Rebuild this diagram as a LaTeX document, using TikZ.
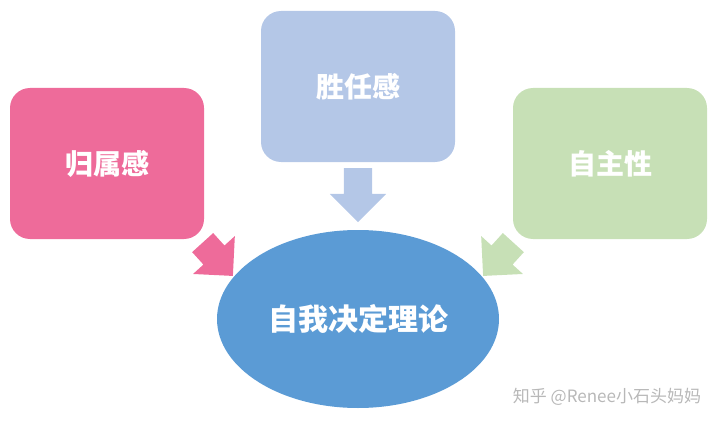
\documentclass[tikz,border=0pt]{standalone}
\usepackage{fontspec}
\newfontfamily\cjk{Noto Sans CJK SC}
\usetikzlibrary{shapes.geometric, shapes.arrows}

\definecolor{pinkbox}{HTML}{EE6B9A}
\definecolor{bluebox}{HTML}{B4C7E7}
\definecolor{greenbox}{HTML}{C7E0B6}
\definecolor{mainblue}{HTML}{5B9BD5}

\begin{document}
\begin{tikzpicture}[x=1pt,y=-1pt,
    box/.style={rounded corners=20pt, minimum width=194pt, minimum height=151pt,
        text=white, font=\cjk\bfseries\fontsize{28}{32}\selectfont},
    blockarrow/.style={single arrow, inner xsep=0pt, inner ysep=14pt,
        single arrow head extend=14pt}]
    \useasboundingbox (0,0) rectangle (720,425);

    \node[box, fill=pinkbox] (need1) at (107,163.5) {归属感};
    \node[box, fill=bluebox] (need2) at (358,86.5) {胜任感};
    \node[box, fill=greenbox] (need3) at (610,163.5) {自主性};
    \node[ellipse, fill=mainblue, minimum width=282pt, minimum height=178pt,
        text=white, font=\cjk\bfseries\fontsize{30}{34}\selectfont] (sdt) at (358,319) {自我决定理论};

    % block arrows towards the centre
    \node[blockarrow, fill=pinkbox, minimum height=45pt, rotate=-47.8] (arr1) at (213,254) {};
    \node[blockarrow, fill=bluebox, minimum height=54pt, rotate=-90] (arr2) at (358,188) {};
    \node[blockarrow, fill=greenbox, minimum height=45pt, rotate=-132.2] (arr3) at (503,254) {};

    \node[text=black!28, font=\cjk\fontsize{17}{20}\selectfont] (mark) at (607,397) {知乎 @Renee小石头妈妈};
\end{tikzpicture}
\end{document}
